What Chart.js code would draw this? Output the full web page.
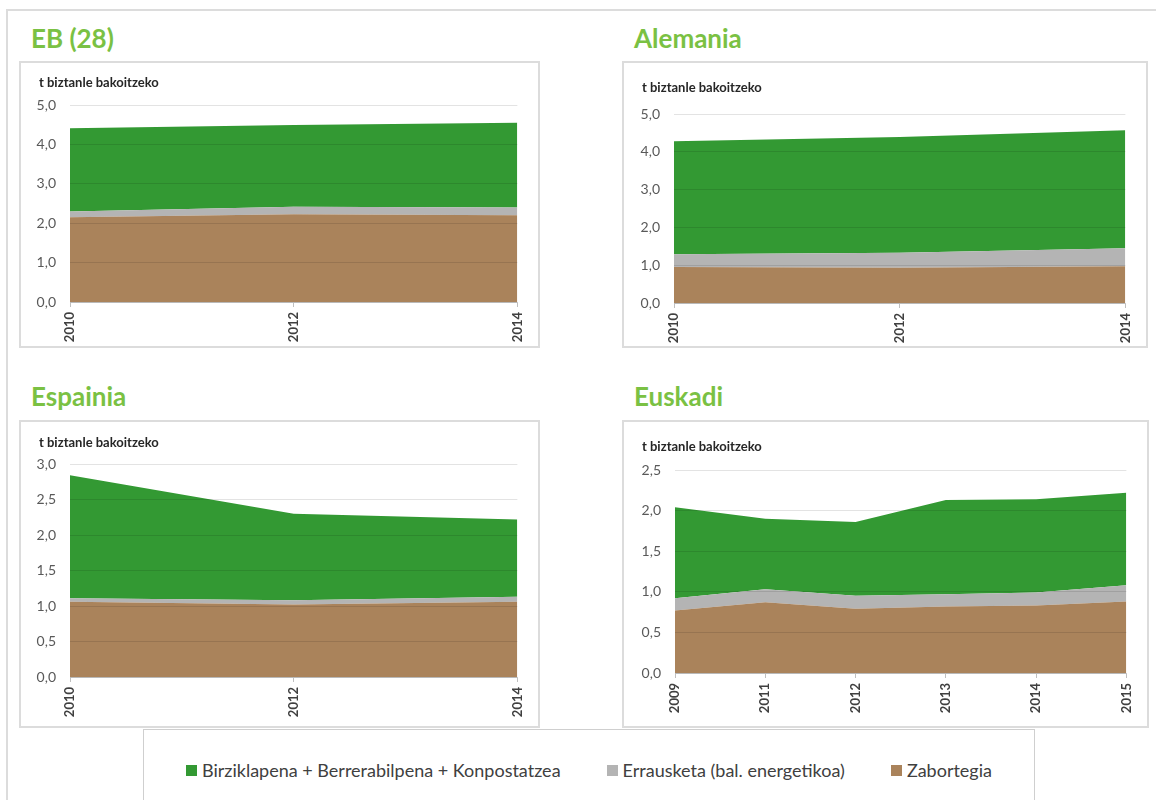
<!DOCTYPE html>
<html>
<head>
<meta charset="utf-8">
<script src="https://cdn.jsdelivr.net/npm/chart.js@4.4.1/dist/chart.umd.min.js"></script>
<style>
  body { margin: 0; background: #fff; width: 1156px; height: 800px; overflow: hidden; position: relative; font-family: Lato, "Open Sans", sans-serif; }
  .frame { position: absolute; left: 6px; top: 9px; width: 1160px; height: 800px; border-top: 2px solid #dcdcdc; border-left: 2px solid #dcdcdc; }
  .izenburua { position: absolute; font-weight: bold; font-size: 26px; color: #7ac143; line-height: 1; }
  .kutxa { position: absolute; border: 2px solid #dcdcdc; }
  .kutxa canvas { display: block; }
  .legenda { position: absolute; left: 143px; top: 729px; width: 892px; height: 80px; border: 1px solid #cfcfcf; border-bottom: none;
             display: flex; justify-content: center; align-items: flex-start; gap: 46px; padding-top: 29px; box-sizing: border-box; }
  .leg-item { display: flex; align-items: center; font-size: 18px; color: #404040; }
  .leg-item span.kol { width: 11px; height: 11px; margin-right: 5px; display: inline-block; }
</style>
</head>
<body>
<div class="frame"></div>

<div class="izenburua" style="left:31px; top:25px;">EB (28)</div>
<div class="izenburua" style="left:634px; top:25px;">Alemania</div>
<div class="izenburua" style="left:31px; top:383px;">Espainia</div>
<div class="izenburua" style="left:634px; top:383px;">Euskadi</div>

<div class="kutxa" style="left:19px; top:61px;"><canvas id="g_eb" width="517" height="283"></canvas></div>
<div class="kutxa" style="left:622px; top:61px;"><canvas id="g_de" width="522" height="283"></canvas></div>
<div class="kutxa" style="left:19px; top:420px;"><canvas id="g_es" width="517" height="304"></canvas></div>
<div class="kutxa" style="left:622px; top:420px;"><canvas id="g_eus" width="523" height="304"></canvas></div>

<div class="legenda" id="legenda"></div>

<script>
// DATUAK (t biztanle bakoitzeko)
const SERIEAK = ["Birziklapena + Berrerabilpena + Konpostatzea", "Errausketa (bal. energetikoa)", "Zabortegia"];
const KOLOREAK = ["#339933", "#b4b4b4", "#aa835b"];

const urteak = ["2010", "2012", "2014"];
const urteak_eus = ["2009", "2011", "2012", "2013", "2014", "2015"];

const zabortegia_eb = [2.15, 2.23, 2.20];
const errausketa_eb = [0.15, 0.19, 0.20];
const birziklapena_eb = [2.11, 2.07, 2.15];

const zabortegia_de = [0.95, 0.93, 0.97];
const errausketa_de = [0.34, 0.40, 0.48];
const birziklapena_de = [2.99, 3.06, 3.12];

const zabortegia_es = [1.06, 1.02, 1.06];
const errausketa_es = [0.05, 0.06, 0.07];
const birziklapena_es = [1.73, 1.22, 1.09];

const zabortegia_eus = [0.77, 0.87, 0.79, 0.82, 0.83, 0.88];
const errausketa_eus = [0.15, 0.16, 0.16, 0.15, 0.16, 0.20];
const birziklapena_eus = [1.12, 0.87, 0.91, 1.16, 1.15, 1.14];

const ARDATZ_IZENA = "t biztanle bakoitzeko";

// legenda
const legenda = document.getElementById("legenda");
for (let i = 0; i < SERIEAK.length; i++) {
  const item = document.createElement("div");
  item.className = "leg-item";
  item.innerHTML = '<span class="kol" style="background:' + KOLOREAK[i] + '"></span>' + SERIEAK[i];
  legenda.appendChild(item);
}

// ardatzaren izena, goian ezkerrean
const ardatzIzena = {
  id: "ardatzIzena",
  afterDraw(chart, args, opts) {
    const ctx = chart.ctx;
    ctx.save();
    ctx.font = "bold 13px Lato";
    ctx.fillStyle = "#262626";
    ctx.textBaseline = "middle";
    ctx.textAlign = "left";
    ctx.fillText(ARDATZ_IZENA, opts.x, opts.y);
    ctx.restore();
  }
};

function Grafikoa(id, labels, zab, err, bir, maxY, pausoa, k) {
  const W = document.getElementById(id).width;
  const H = document.getElementById(id).height;
  return new Chart(id, {
    type: "line",
    data: {
      labels: labels,
      datasets: [
        { label: SERIEAK[2], data: zab, backgroundColor: KOLOREAK[2], fill: "origin" },
        { label: SERIEAK[1], data: err, backgroundColor: KOLOREAK[1], fill: "-1" },
        { label: SERIEAK[0], data: bir, backgroundColor: KOLOREAK[0], fill: "-1" }
      ]
    },
    plugins: [ardatzIzena],
    options: {
      responsive: false,
      animation: false,
      elements: { point: { radius: 0 }, line: { borderWidth: 0, tension: 0 } },
      layout: { padding: { left: 4, right: W - k.r, top: k.t, bottom: 0 } },
      plugins: {
        legend: { display: false },
        tooltip: { enabled: false },
        ardatzIzena: { x: 18, y: k.ty }
      },
      scales: {
        x: {
          grid: { display: true, drawOnChartArea: false, drawTicks: true, tickLength: 5, color: "#bfbfbf" },
          border: { display: true, color: "#d0d0d0" },
          ticks: { minRotation: 90, maxRotation: 90, padding: 5, color: "#404040",
                   font: { family: "Lato", size: 13, weight: "bold" } },
          afterFit: function(s) { s.height = H - k.b; }
        },
        y: {
          stacked: true,
          min: 0,
          max: maxY,
          grid: { color: "rgba(0,0,0,0.11)", drawTicks: false, z: 1 },
          border: { display: false },
          ticks: {
            stepSize: pausoa,
            padding: 14,
            color: "#595959",
            font: { family: "Lato", size: 14 },
            callback: function(v) { return v.toFixed(1).replace(".", ","); }
          },
          afterFit: function(s) { s.width = k.l - 4; }
        }
      }
    }
  });
}

Grafikoa("g_eb", urteak, zabortegia_eb, errausketa_eb, birziklapena_eb, 5, 1,
  { l: 49, r: 497, t: 42, b: 239, ty: 20 });
Grafikoa("g_de", urteak, zabortegia_de, errausketa_de, birziklapena_de, 5, 1,
  { l: 50, r: 503, t: 51, b: 240, ty: 25 });
Grafikoa("g_es", urteak, zabortegia_es, errausketa_es, birziklapena_es, 3, 0.5,
  { l: 49, r: 499, t: 42, b: 255, ty: 21 });
Grafikoa("g_eus", urteak_eus, zabortegia_eus, errausketa_eus, birziklapena_eus, 2.5, 0.5,
  { l: 51, r: 504, t: 48, b: 251, ty: 25 });
</script>
</body>
</html>
